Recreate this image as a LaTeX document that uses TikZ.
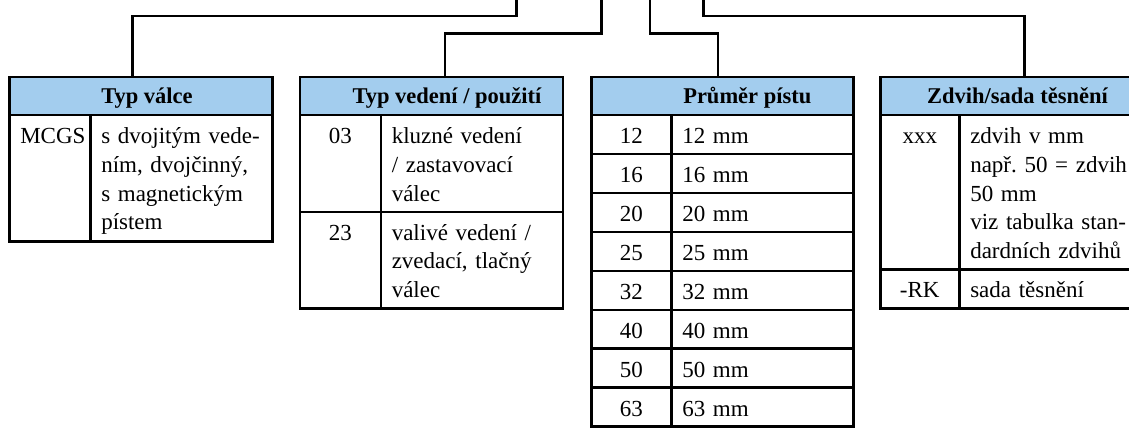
\documentclass[tikz,border=0pt]{standalone}
\usepackage{fontspec}
\setmainfont{Liberation Serif}

\definecolor{kopfblau}{RGB}{163,205,238}

\begin{document}
\frenchspacing
\begin{tikzpicture}[x=1pt,y=-1pt,
  linie/.style={line width=2.5pt},
  kopf/.style={draw,line width=2.5pt,fill=kopfblau,anchor=north west,inner sep=0pt,minimum height=38pt},
  kopftext/.style={anchor=base,font=\fontsize{22.5}{26}\selectfont\bfseries},
  feld/.style={draw,line width=2.5pt,anchor=north west,inner xsep=11pt,inner ysep=0pt,text height=28.5pt,font=\fontsize{23}{28.7}\selectfont}]
\useasboundingbox (0,0) rectangle (1129,441);
\def\feld#1#2#3#4#5#6{\pgfmathsetmacro\feldb{#3-22}\pgfmathsetmacro\feldt{#4-28.5}%
  \node[feld,text width=\feldb pt,text depth=\feldt pt,align=#5] (#1) at (#2) {#6};}

% Typ valce
\node[kopf,minimum width=263pt] (t1h) at (8,76) {};
\node[kopftext] (t1t) at (147,104) {Typ válce};
\feld{t1a}{8,114}{81}{126}{center}{MCGS}
\feld{t1b}{89,114}{182}{126}{left}{s dvojitým vede-\\ním, dvojčinný,\\s magnetickým\\pístem}

% Typ vedeni
\node[kopf,minimum width=263pt] (t2h) at (298.5,76) {};
\node[kopftext] (t2t) at (447,104) {Typ vedení / použití};
\feld{t2a}{298.5,114}{81}{96.5}{center}{03}
\feld{t2b}{379.5,114}{182}{96.5}{left}{kluzné vedení\\/ zastavovací\\válec}
\feld{t2c}{298.5,210.5}{81}{96.5}{center}{23}
\feld{t2d}{379.5,210.5}{182}{96.5}{left}{valivé vedení /\\zvedací, tlačný\\válec}

% Prumer pistu
\node[kopf,minimum width=262pt] (t3h) at (590,76) {};
\node[kopftext] (t3t) at (747.3,104) {Průměr pístu};
\foreach \d [count=\i from 0] in {12,16,20,25,32,40,50,63}{
  \feld{t3a\i}{590,{114+38.9*\i}}{80}{38.9}{center}{\d}
  \feld{t3b\i}{670,{114+38.9*\i}}{182}{38.9}{left}{\d\ mm}
}

% Zdvih
\node[kopf,minimum width=261pt] (t4h) at (879,76) {};
\node[kopftext] (t4t) at (1017.5,104) {Zdvih/sada těsnění};
\feld{t4a}{879,114}{79}{154}{center}{xxx}
\feld{t4b}{958,114}{182}{154}{left}{zdvih v mm\\např. 50 = zdvih\\50 mm\\viz tabulka stan-\\dardních zdvihů}
\feld{t4c}{879,268}{79}{39}{center}{-RK}
\feld{t4d}{958,268}{182}{39}{left}{sada těsnění}

% Verbindungen nach oben
\coordinate (o1) at (516.5,-5);
\coordinate (o2) at (601.5,-5);
\coordinate (o3) at (650,-5);
\coordinate (o4) at (703.5,-5);
\draw[linie] (o1) -- ++(0,21) -| ([xshift=-8.5]t1h.north);
\draw[linie] (o2) -- ++(0,38.3) -| ([xshift=13.5]t2h.north);
\draw[linie] (o3) -- ++(0,38.3) -| ([xshift=-4.5]t3h.north);
\draw[linie] (o4) -- ++(0,21) -| ([xshift=13.5]t4h.north);
\end{tikzpicture}
\end{document}
